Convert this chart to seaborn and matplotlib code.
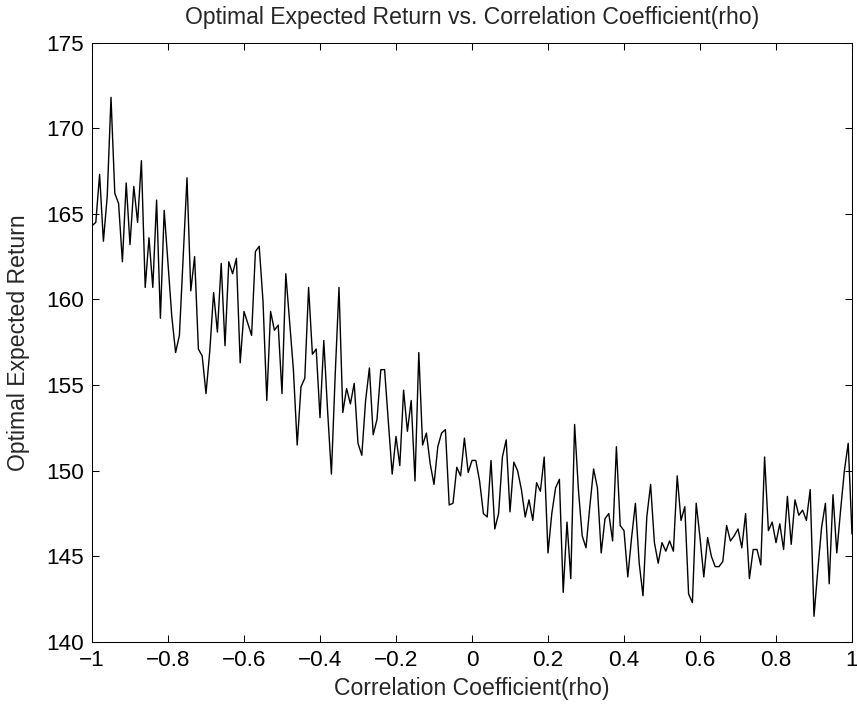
import numpy as np
import pandas as pd
import matplotlib
matplotlib.use("Agg")
import matplotlib.pyplot as plt
import seaborn as sns

rho = np.round(np.linspace(-1, 1, 201), 2)
returns = [
    164.3, 164.5, 167.3, 163.4, 166.0, 171.8, 166.2, 165.6, 162.2, 166.8,
    163.2, 166.6, 164.5, 168.1, 160.7, 163.6, 160.7, 165.8, 158.9, 165.2,
    162.1, 159.0, 156.9, 157.9, 162.5, 167.1, 160.5, 162.5, 157.1, 156.7,
    154.5, 157.0, 160.4, 158.1, 162.1, 157.3, 162.2, 161.5, 162.4, 156.3,
    159.3, 158.6, 157.9, 162.8, 163.1, 159.9, 154.1, 159.3, 158.2, 158.5,
    154.5, 161.5, 158.7, 155.9, 151.5, 154.9, 155.4, 160.7, 156.8, 157.1,
    153.1, 157.6, 153.5, 149.8, 155.6, 160.7, 153.4, 154.8, 153.9, 155.1,
    151.6, 150.9, 154.1, 156.0, 152.1, 153.0, 155.9, 155.9, 152.8, 149.8,
    152.0, 150.3, 154.7, 152.3, 154.1, 149.4, 156.9, 151.5, 152.2, 150.4,
    149.2, 151.4, 152.2, 152.4, 148.0, 148.1, 150.2, 149.7, 151.9, 149.9,
    150.6, 150.6, 149.4, 147.5, 147.3, 150.6, 146.6, 147.5, 150.8, 151.8,
    147.6, 150.5, 150.0, 148.9, 147.3, 148.3, 147.1, 149.3, 148.8, 150.8,
    145.2, 147.5, 149.0, 149.5, 142.9, 147.0, 143.7, 152.7, 148.9, 146.2,
    145.5, 147.9, 150.1, 149.0, 145.2, 147.2, 147.5, 145.9, 151.4, 146.8,
    146.5, 143.8, 146.1, 148.1, 144.6, 142.7, 147.3, 149.2, 145.8, 144.6,
    145.8, 145.3, 145.9, 145.3, 149.7, 147.1, 147.9, 142.8, 142.3, 148.1,
    146.1, 143.8, 146.1, 145.0, 144.4, 144.4, 144.7, 146.8, 145.9, 146.2,
    146.6, 145.5, 147.5, 143.7, 145.4, 145.4, 144.5, 150.8, 146.5, 147.0,
    145.8, 146.9, 145.4, 148.5, 145.7, 148.3, 147.4, 147.7, 147.1, 148.9,
    141.5, 144.2, 146.7, 148.1, 143.4, 148.6, 145.2, 147.7, 150.0, 151.6,
    146.3,
]
x_ticks = [-1, -0.8, -0.6, -0.4, -0.2, 0, 0.2, 0.4, 0.6, 0.8, 1]
x_tick_labels = ["\u22121", "\u22120.8", "\u22120.6", "\u22120.4", "\u22120.2", "0",
                 "0.2", "0.4", "0.6", "0.8", "1"]
y_ticks = [140, 145, 150, 155, 160, 165, 170, 175]

df = pd.DataFrame({"rho": rho, "ret": returns})

sns.set_style("ticks")
plt.rcParams["font.family"] = ["Liberation Sans", "DejaVu Sans"]
plt.rcParams["xtick.direction"] = "in"
plt.rcParams["ytick.direction"] = "in"

W, H = 857, 709
L, R, T, B = 92, 852, 42.5, 642
fig = plt.figure(figsize=(W / 100, H / 100), dpi=100)
ax = fig.add_axes([L / W, 1 - B / H, (R - L) / W, (B - T) / H])
sns.lineplot(data=df, x="rho", y="ret", color="black", linewidth=1.0, ax=ax)

ax.set_xlim(-1, 1)
ax.set_ylim(140, 175)
ax.set_xticks(x_ticks)
ax.set_xticklabels(x_tick_labels)
ax.set_yticks(y_ticks)
ax.tick_params(axis="both", which="both", direction="in", length=5, width=0.75,
               labelsize=16.2, top=True, right=True, colors="black")
ax.tick_params(axis="x", pad=6)
ax.tick_params(axis="y", pad=6)
for s in ax.spines.values():
    s.set_visible(True)
    s.set_linewidth(0.75)
    s.set_color("black")
ax.set_xlabel("Correlation Coefficient(rho)", fontsize=16.6)
ax.set_ylabel("Optimal Expected Return", fontsize=16.6)
ax.xaxis.set_label_coords(0.5, (B - 677) / (B - T))
ax.yaxis.set_label_coords((30 - L) / (R - L), 0.5)
ax.set_title("Optimal Expected Return vs. Correlation Coefficient(rho)", fontsize=16.6, pad=13)

fig.savefig("out.png", dpi=100)
